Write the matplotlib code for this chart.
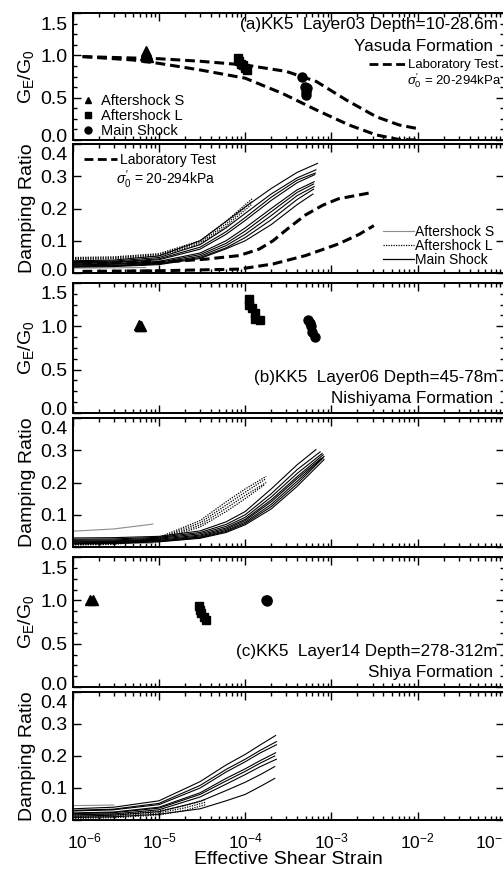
import numpy as np
import matplotlib
matplotlib.use('Agg')
import matplotlib.pyplot as plt
import matplotlib.transforms as mtransforms
from matplotlib.lines import Line2D
from matplotlib.ticker import LogLocator, NullFormatter, AutoMinorLocator, FixedLocator, FormatStrFormatter

plt.rcParams['font.family'] = ['Liberation Sans', 'DejaVu Sans']
plt.rcParams['mathtext.fontset'] = 'custom'
plt.rcParams['mathtext.rm'] = 'Liberation Sans'
plt.rcParams['mathtext.it'] = 'Liberation Sans:italic'
plt.rcParams['mathtext.default'] = 'regular'

##########################################################################################
# Data
##########################################################################################
# ---- (a) Layer03, G/G0
lab_a_hi_x = [1.3e-6, 1e-5, 3e-5, 1e-4, 3e-4, 6.7e-4, 1.5e-3, 3.3e-3, 6.1e-3, 9.6e-3]
lab_a_hi_g = [0.985, 0.96, 0.93, 0.886, 0.81, 0.69, 0.47, 0.275, 0.177, 0.138]
lab_a_lo_x = [1.3e-6, 5e-6, 1e-5, 2.9e-5, 1e-4, 2.7e-4, 6.7e-4, 1.6e-3, 3.3e-3, 6.1e-3, 1e-2]
lab_a_lo_g = [0.985, 0.945, 0.905, 0.83, 0.73, 0.55, 0.354, 0.177, 0.06, 0.005, 0.0]

a_tri_x = [7.0e-6, 7.2e-6, 6.8e-6, 7.5e-6]
a_tri_g = [1.05, 1.02, 1.0, 0.98]
a_sq_x = [8.3e-5, 8.5e-5, 9.0e-5, 9.5e-5, 1.0e-4, 1.05e-4]
a_sq_g = [0.97, 0.93, 0.90, 0.88, 0.85, 0.83]
a_ci_x = [4.5e-4, 4.9e-4, 5.0e-4, 5.2e-4, 5.1e-4]
a_ci_g = [0.75, 0.63, 0.57, 0.61, 0.53]

# ---- (a) Layer03, damping
lab_d_hi_x = [1.3e-6, 1e-5, 3.5e-5, 8.5e-5, 1.45e-4, 2.1e-4, 3.2e-4, 5e-4, 7.9e-4, 1.2e-3, 3e-3]
lab_d_hi_h = [0.031, 0.033, 0.043, 0.054, 0.074, 0.10, 0.14, 0.18, 0.21, 0.23, 0.25]
lab_d_lo_x = [1.3e-6, 1e-5, 8.5e-5, 2.1e-4, 5e-4, 1.2e-3, 2.1e-3, 3.1e-3]
lab_d_lo_h = [0.005, 0.007, 0.012, 0.028, 0.054, 0.09, 0.12, 0.147]

a_main_x = [1e-6, 3e-6, 1e-5, 3e-5, 6e-5, 1e-4, 2e-4, 4e-4]
a_main_end = [6.9e-4, 6.6e-4, 6.5e-4, 6.4e-4, 6.3e-4, 6.2e-4, 6.3e-4, 6.2e-4, 6.1e-4]
a_main_h = [
    [0.038, 0.040, 0.053, 0.100, 0.160, 0.205, 0.262, 0.312, 0.340],
    [0.035, 0.037, 0.048, 0.088, 0.140, 0.185, 0.245, 0.295, 0.320],
    [0.032, 0.034, 0.044, 0.080, 0.128, 0.172, 0.235, 0.288, 0.310],
    [0.030, 0.032, 0.041, 0.074, 0.120, 0.163, 0.225, 0.280, 0.305],
    [0.027, 0.029, 0.036, 0.062, 0.100, 0.140, 0.200, 0.258, 0.283],
    [0.025, 0.027, 0.033, 0.057, 0.092, 0.130, 0.190, 0.250, 0.276],
    [0.022, 0.024, 0.030, 0.052, 0.085, 0.120, 0.178, 0.240, 0.268],
    [0.020, 0.022, 0.028, 0.048, 0.078, 0.110, 0.165, 0.228, 0.260],
    [0.018, 0.020, 0.026, 0.045, 0.075, 0.100, 0.150, 0.212, 0.245],
]
a_afL_x = [1e-6, 3e-6, 1e-5, 3e-5, 6e-5, 1.2e-4]
a_afL_h = [
    [0.048, 0.050, 0.060, 0.100, 0.160, 0.230],
    [0.045, 0.047, 0.057, 0.095, 0.152, 0.222],
    [0.042, 0.044, 0.053, 0.090, 0.145, 0.214],
]
a_afS_x = [1e-6, 3e-6, 7e-6]
a_afS_h = [
    [0.034, 0.035, 0.037],
    [0.028, 0.029, 0.030],
    [0.022, 0.023, 0.024],
    [0.015, 0.016, 0.017],
]

# ---- (b) Layer06
b_tri_x = [5.8e-6, 6.0e-6, 6.2e-6]
b_tri_g = [1.01, 1.0, 1.0]
b_sq_x = [1.1e-4, 1.12e-4, 1.2e-4, 1.3e-4, 1.3e-4, 1.5e-4]
b_sq_g = [1.32, 1.25, 1.21, 1.15, 1.09, 1.07]
b_ci_x = [5.3e-4, 5.6e-4, 5.8e-4, 6.0e-4, 6.4e-4]
b_ci_g = [1.07, 1.04, 1.0, 0.94, 0.88]

b_main_x = [1e-6, 3e-6, 1e-5, 3e-5, 6e-5, 1e-4, 2e-4, 4e-4]
b_main_end = [6.6e-4, 7.4e-4, 7.8e-4, 8.0e-4, 7.6e-4, 8.2e-4, 8.0e-4, 8.2e-4]
b_main_h = [
    [0.028, 0.029, 0.033, 0.050, 0.078, 0.110, 0.180, 0.255, 0.302],
    [0.024, 0.025, 0.030, 0.045, 0.070, 0.100, 0.165, 0.240, 0.295],
    [0.021, 0.022, 0.027, 0.041, 0.064, 0.092, 0.155, 0.228, 0.290],
    [0.018, 0.019, 0.024, 0.037, 0.059, 0.086, 0.146, 0.218, 0.286],
    [0.016, 0.017, 0.021, 0.034, 0.055, 0.082, 0.140, 0.212, 0.275],
    [0.013, 0.014, 0.019, 0.031, 0.051, 0.077, 0.132, 0.204, 0.281],
    [0.011, 0.012, 0.017, 0.029, 0.048, 0.073, 0.125, 0.196, 0.276],
    [0.009, 0.011, 0.016, 0.027, 0.045, 0.069, 0.118, 0.188, 0.271],
]
b_afL_x = [1e-6, 3e-6, 1e-5, 3e-5, 6e-5, 1e-4]
b_afL_end = [1.75e-4, 1.7e-4, 1.75e-4, 1.65e-4]
b_afL_h = [
    [0.012, 0.014, 0.030, 0.082, 0.140, 0.180, 0.219],
    [0.010, 0.012, 0.027, 0.075, 0.130, 0.170, 0.210],
    [0.008, 0.010, 0.025, 0.068, 0.120, 0.160, 0.200],
    [0.006, 0.008, 0.022, 0.062, 0.110, 0.150, 0.192],
]
b_afS_x = [1e-6, 3e-6, 8.5e-6]
b_afS_h = [
    [0.049, 0.056, 0.071],
    [0.018, 0.019, 0.021],
    [0.010, 0.011, 0.012],
]

# ---- (c) Layer14
c_tri_x = [1.6e-6, 1.7e-6]
c_tri_g = [1.0, 1.0]
c_sq_x = [2.9e-5, 3.0e-5, 3.1e-5, 3.3e-5, 3.5e-5]
c_sq_g = [0.93, 0.89, 0.85, 0.81, 0.77]
c_ci_x = [1.72e-4, 1.78e-4, 1.8e-4]
c_ci_g = [1.0, 0.99, 1.0]

c_main_x = [1e-6, 3e-6, 1e-5, 3e-5, 6e-5, 1e-4, 1.5e-4]
c_main_end = [2.25e-4, 2.3e-4, 2.3e-4, 2.25e-4, 2.2e-4, 2.3e-4, 2.2e-4, 2.2e-4]
c_main_h = [
    [0.035, 0.040, 0.060, 0.120, 0.172, 0.205, 0.235, 0.264],
    [0.030, 0.034, 0.052, 0.108, 0.158, 0.190, 0.218, 0.245],
    [0.028, 0.032, 0.048, 0.100, 0.150, 0.182, 0.210, 0.235],
    [0.022, 0.025, 0.040, 0.085, 0.130, 0.160, 0.186, 0.210],
    [0.020, 0.023, 0.037, 0.080, 0.122, 0.152, 0.178, 0.200],
    [0.016, 0.019, 0.032, 0.072, 0.112, 0.142, 0.167, 0.190],
    [0.012, 0.015, 0.026, 0.058, 0.092, 0.118, 0.142, 0.167],
    [0.008, 0.010, 0.018, 0.035, 0.060, 0.080, 0.105, 0.130],
]
c_afL_x = [1e-6, 3e-6, 1e-5, 2e-5, 3.5e-5]
c_afL_h = [
    [0.015, 0.017, 0.028, 0.045, 0.065],
    [0.010, 0.012, 0.022, 0.038, 0.056],
    [0.005, 0.007, 0.016, 0.030, 0.048],
]
c_afS_x = [1e-6, 2e-6, 3e-6]
c_afS_h = [
    [0.045, 0.046, 0.047],
    [0.030, 0.031, 0.032],
    [0.020, 0.021, 0.021],
    [0.008, 0.009, 0.010],
]

titles = ['(a)KK5  Layer03 Depth=10-28.6m', '(b)KK5  Layer06 Depth=45-78m', '(c)KK5  Layer14 Depth=278-312m']
formations = ['Yasuda Formation', 'Nishiyama Formation', 'Shiya Formation']
xtick_vals = [1e-6, 1e-5, 1e-4, 1e-3, 1e-2, 1e-1]
xtick_labs = [r'$10^{-6}$', r'$10^{-5}$', r'$10^{-4}$', r'$10^{-3}$', r'$10^{-2}$', r'$10^{-1}$']
sigma_txt = r"$\mathit{\sigma}_0'$ = 20-294kPa"

##########################################################################################
# Layout (pixels)
##########################################################################################
W, H = 503, 869
X0, X1 = 72.7, 504.0
rows = [(13, 140), (144, 273), (283, 413), (418, 547), (557, 687), (692, 820)]

fig = plt.figure(figsize=(W / 100, H / 100), dpi=100)
axs = [fig.add_axes([X0 / W, 1 - b / H, (X1 - X0) / W, (b - t) / H]) for t, b in rows]

DASH = (0, (3.2, 1.6))


def shift(lab, dx, dy):
    off = mtransforms.ScaledTranslation(dx / 100, dy / 100, fig.dpi_scale_trans)
    lab.set_transform(lab.get_transform() + off)


for i, ax in enumerate(axs):
    ax.set_xscale('log')
    ax.set_xlim(1e-6, 1e-1)
    ax.xaxis.set_major_locator(FixedLocator(xtick_vals))
    ax.xaxis.set_minor_locator(LogLocator(base=10, subs=np.arange(2, 10), numticks=30))
    ax.xaxis.set_minor_formatter(NullFormatter())
    ax.tick_params(which='both', direction='in', top=True, right=True, width=1.0)
    ax.tick_params(which='major', length=6)
    ax.tick_params(which='minor', length=3)
    ax.tick_params(axis='y', labelsize=14, pad=4)
    for s in ax.spines.values():
        s.set_linewidth(1.4)
    if i % 2 == 0:
        ax.set_ylim(0, 1.5)
        ax.yaxis.set_major_locator(FixedLocator([0, 0.5, 1.0, 1.5]))
        ax.yaxis.set_minor_locator(AutoMinorLocator(4))
        ax.set_ylabel(r'G$_E$/G$_0$', fontsize=14)
    else:
        ax.set_ylim(0, 0.4)
        ax.yaxis.set_major_locator(FixedLocator([0, 0.1, 0.2, 0.3, 0.4]))
        ax.set_ylabel('Damping Ratio', fontsize=14)
    ax.yaxis.set_major_formatter(FormatStrFormatter('%.1f'))
    ax.yaxis.set_label_coords(-0.085, 0.5)
    ylabs = ax.get_yticklabels()
    shift(ylabs[0], 0, 4)
    shift(ylabs[-1], 0, -10)
    if i < 5:
        ax.tick_params(axis='x', labelbottom=False)
    else:
        ax.set_xticklabels(xtick_labs)
        ax.tick_params(axis='x', labelsize=12.5, pad=8)
        xl = ax.get_xticklabels()
        shift(xl[0], 12, 0)
        shift(xl[-1], -12, 0)
        ax.set_xlabel('Effective Shear Strain', fontsize=14, labelpad=0)

mk = dict(color='black', linestyle='none')

# ---------------- G/G0 panels
gsets = [
    (a_tri_x, a_tri_g, a_sq_x, a_sq_g, a_ci_x, a_ci_g),
    (b_tri_x, b_tri_g, b_sq_x, b_sq_g, b_ci_x, b_ci_g),
    (c_tri_x, c_tri_g, c_sq_x, c_sq_g, c_ci_x, c_ci_g),
]
for k, (tx, tg, sx, sg, cx, cg) in enumerate(gsets):
    ax = axs[2 * k]
    ax.plot(tx, tg, marker='^', markersize=6.5, **mk)
    ax.plot(sx, sg, marker='s', markersize=6, **mk)
    ax.plot(cx, cg, marker='o', markersize=6.5, **mk)
    ax.text(0.985, 0.91 if k == 0 else 0.27, titles[k], transform=ax.transAxes,
            ha='right', va='center', fontsize=12.3)
    ax.text(0.975, 0.735 if k == 0 else 0.11, formations[k], transform=ax.transAxes,
            ha='right', va='center', fontsize=12.3)

ax = axs[0]
ax.plot(lab_a_hi_x, lab_a_hi_g, color='black', lw=2.2, linestyle=DASH)
ax.plot(lab_a_lo_x, lab_a_lo_g, color='black', lw=2.2, linestyle=DASH)
hmarks = [Line2D([], [], marker=m, ms=5, **mk) for m in ('^', 's', 'o')]
leg1 = ax.legend(hmarks, ['Aftershock S', 'Aftershock L', 'Main Shock'], loc='lower left',
                 bbox_to_anchor=(-0.008, -0.075), frameon=False, fontsize=10.5, handlelength=1.0,
                 handletextpad=0.35, labelspacing=0.05, borderpad=0.3)
ax.add_artist(leg1)
ax.legend([Line2D([], [], color='black', lw=2.0, linestyle=DASH)], ['Laboratory Test'],
          loc='upper right', bbox_to_anchor=(1.0, 0.68), frameon=False, fontsize=9.5,
          handlelength=2.8, handletextpad=0.2, borderpad=0.1, borderaxespad=0.3)
ax.text(0.995, 0.47, sigma_txt, transform=ax.transAxes, ha='right', va='center', fontsize=9.5)

# ---------------- damping panels
dsets = [
    (a_main_x, a_main_end, a_main_h, a_afL_x, None, a_afL_h, a_afS_x, a_afS_h),
    (b_main_x, b_main_end, b_main_h, b_afL_x, b_afL_end, b_afL_h, b_afS_x, b_afS_h),
    (c_main_x, c_main_end, c_main_h, c_afL_x, None, c_afL_h, c_afS_x, c_afS_h),
]
for k, (mx, mend, mh, lx, lend, lh, sx, sh) in enumerate(dsets):
    ax = axs[2 * k + 1]
    for h in sh:
        ax.plot(sx, h, color='0.55', lw=0.8)
    for j, h in enumerate(lh):
        xx = lx if lend is None else lx + [lend[j]]
        ax.plot(xx, h, color='black', lw=0.9, linestyle=(0, (1, 1)))
    for j, h in enumerate(mh):
        ax.plot(mx + [mend[j]], h, color='black', lw=0.8)

ax = axs[1]
ax.plot(lab_d_hi_x, lab_d_hi_h, color='black', lw=2.2, linestyle=DASH)
ax.plot(lab_d_lo_x, lab_d_lo_h, color='black', lw=2.2, linestyle=DASH)
ax.text(0.1, 0.725, sigma_txt, transform=ax.transAxes, ha='left', va='center', fontsize=10)
hl = [Line2D([], [], color='0.55', lw=0.8),
      Line2D([], [], color='black', lw=0.9, linestyle=(0, (1, 1))),
      Line2D([], [], color='black', lw=0.9)]
leg2 = ax.legend(hl, ['Aftershock S', 'Aftershock L', 'Main Shock'], loc='lower right',
                 bbox_to_anchor=(1.0, -0.03), frameon=False, fontsize=10, handlelength=2.2,
                 handletextpad=0.1, labelspacing=0.0, borderpad=0.2)
ax.add_artist(leg2)
ax.legend([Line2D([], [], color='black', lw=2.0, linestyle=DASH)], ['Laboratory Test'],
          loc='upper left', bbox_to_anchor=(0.0, 1.02), frameon=False, fontsize=10,
          handlelength=2.4, handletextpad=0.2, borderpad=0.3)

fig.savefig('out.png', dpi=100)
